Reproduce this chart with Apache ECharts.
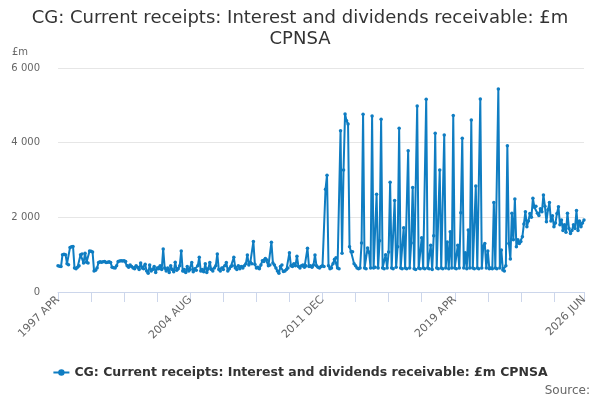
<!DOCTYPE html>
<html>
<head>
<meta charset="utf-8">
<script src="https://cdn.jsdelivr.net/npm/echarts@6/dist/echarts.min.js"></script>
<style>
  html, body { margin: 0; padding: 0; background: #fff; }
  #chart { width: 600px; height: 400px; }
</style>
</head>
<body>
<div id="chart"></div>
<script>
const TITLE = 'CG: Current receipts: Interest and dividends receivable: £m\nCPNSA';
const SERIES_NAME = 'CG: Current receipts: Interest and dividends receivable: £m CPNSA';
const START_YEAR = 1997;
const START_MONTH = 4; // APR
const MONTH_NAMES = ['JAN', 'FEB', 'MAR', 'APR', 'MAY', 'JUN', 'JUL', 'AUG', 'SEP', 'OCT', 'NOV', 'DEC'];
const Y_TICKS = [0, 2000, 4000, 6000];

// monthly values, £m, from 1997 APR (rows of 12 months)
const VALUES_1997_2005 = [
  700, 690, 680, 1000, 1010, 1000, 760, 730, 1190, 1210, 1220, 640,
  620, 660, 700, 1000, 1020, 780, 1040, 800, 780, 1100, 1090, 1070,
  560, 580, 640, 790, 810, 800, 810, 820, 790, 800, 810, 790,
  660, 650, 640, 700, 820, 830, 840, 830, 840, 820, 700, 660,
  720, 680, 640, 620, 700, 660, 600, 780, 640, 620, 740, 560,
  500, 720, 560, 600, 680, 520, 640, 620, 700, 600, 1150, 640,
  560, 640, 520, 700, 600, 540, 800, 580, 620, 700, 1100, 560,
  600, 520, 680, 560, 600, 790, 540, 620, 580, 700, 930, 560,
];
const VALUES_2005_2012 = [
  600, 540, 760, 520, 620, 790, 600, 560, 640, 700, 1020, 600,
  560, 640, 600, 700, 790, 560, 620, 680, 700, 930, 640, 600,
  700, 620, 680, 640, 700, 760, 990, 720, 800, 760, 1350, 740,
  640, 660, 620, 720, 840, 820, 900, 860, 700, 720, 1330, 780,
  720, 640, 560, 500, 680, 720, 550, 560, 600, 640, 1050, 700,
  680, 760, 700, 960, 680, 640, 700, 720, 660, 700, 1170, 680,
  700, 660, 720, 990, 700, 660, 640, 680, 700, 680, 2750, 3130,
];
const VALUES_2012_2022 = [
  700, 620, 640, 760, 880, 920, 640, 620, 4320, 1040, 3270, 4770,
  4590, 4500, 1210, 1080, 1080, 760, 700, 640, 620, 640, 1310, 4760,
  640, 620, 1180, 1060, 640, 4715, 640, 660, 2620, 640, 1370, 4625,
  640, 620, 1000, 640, 1070, 2940, 640, 620, 2450, 660, 1210, 4385,
  640, 620, 1720, 640, 620, 3785, 640, 1310, 2800, 620, 600, 4980,
  640, 620, 1450, 640, 620, 5160, 640, 620, 1250, 600, 1510, 4250,
  640, 620, 3270, 640, 620, 4205, 640, 1340, 620, 1615, 640, 4725,
  640, 620, 1250, 640, 2125, 4120, 640, 1050, 620, 1660, 640, 4610,
  640, 620, 2840, 640, 620, 5170, 640, 1230, 1300, 640, 1100, 620,
  640, 620, 2400, 640, 620, 5440, 640, 1125, 590, 560, 700, 3920,
];
const VALUES_2022_2026 = [
  1300, 885, 2110, 1400, 2490, 1215, 1400, 1300, 1350, 1480, 1820, 2150,
  1750, 1900, 2100, 2000, 2510, 2270, 2300, 2110, 2050, 2230, 2150, 2600,
  2300, 1885, 2200, 2395, 1900, 2040, 1750, 1850, 2100, 2285, 1800, 1930,
  1650, 1800, 1600, 2110, 1700, 1570, 1650, 1800, 1700, 2180, 1650, 1900,
  1750, 1850, 1930,
];

const values = [...VALUES_1997_2005, ...VALUES_2005_2012, ...VALUES_2012_2022, ...VALUES_2022_2026];
const months = values.map((_, i) => {
  const m = START_MONTH - 1 + i;
  return `${START_YEAR + Math.floor(m / 12)} ${MONTH_NAMES[m % 12]}`;
});
const LAST = months.length - 1;

const BLUE = '#0f7dc2';
const INK = '#333333';
const MUTED = '#666666';
const FONT = 'DejaVu Sans';

const chart = echarts.init(document.getElementById('chart'));
chart.setOption({
  backgroundColor: '#ffffff',
  animation: false,
  textStyle: { fontFamily: FONT },
  title: {
    text: TITLE,
    left: 'center',
    top: 3,
    textStyle: { fontSize: 18, fontWeight: 'normal', color: INK, lineHeight: 21, fontFamily: FONT },
  },
  graphic: [
    { type: 'text', left: 12, top: 47, style: { text: '£m', fontSize: 10, fill: MUTED, fontFamily: FONT } },
    { type: 'text', right: 10, bottom: 3, style: { text: 'Source:', fontSize: 12, fill: MUTED, fontFamily: FONT } },
  ],
  legend: {
    bottom: 16,
    left: 'center',
    itemWidth: 16,
    itemHeight: 8,
    itemGap: 8,
    textStyle: { fontSize: 12.5, fontWeight: 'bold', color: INK, fontFamily: FONT },
  },
  grid: { left: 58, right: 16, top: 68, bottom: 108 },
  xAxis: {
    type: 'category',
    data: months,
    boundaryGap: false,
    axisLine: { lineStyle: { color: '#ccd6eb' } },
    axisTick: {
      length: 10,
      interval: i => i % 22 === 0 || i === LAST,
      lineStyle: { color: '#ccd6eb' },
    },
    axisLabel: {
      interval: i => i % 88 === 0 || i === LAST,
      rotate: 45,
      color: MUTED,
      fontSize: 11,
      margin: 6,
      fontFamily: FONT,
    },
  },
  yAxis: {
    type: 'value',
    min: Y_TICKS[0],
    max: Y_TICKS[Y_TICKS.length - 1],
    interval: 2000,
    axisLine: { show: false },
    axisTick: { show: false },
    splitLine: { lineStyle: { color: '#e6e6e6' } },
    axisLabel: {
      color: MUTED,
      fontSize: 10,
      margin: 18,
      fontFamily: FONT,
      formatter: v => String(v).replace(/\B(?=(\d{3})+(?!\d))/g, ' '),
    },
  },
  series: [{
    name: SERIES_NAME,
    type: 'line',
    data: values,
    color: BLUE,
    symbol: 'circle',
    symbolSize: 3.5,
    showAllSymbol: true,
    lineStyle: { width: 2, color: BLUE },
    itemStyle: { color: BLUE },
  }],
});
</script>
</body>
</html>
